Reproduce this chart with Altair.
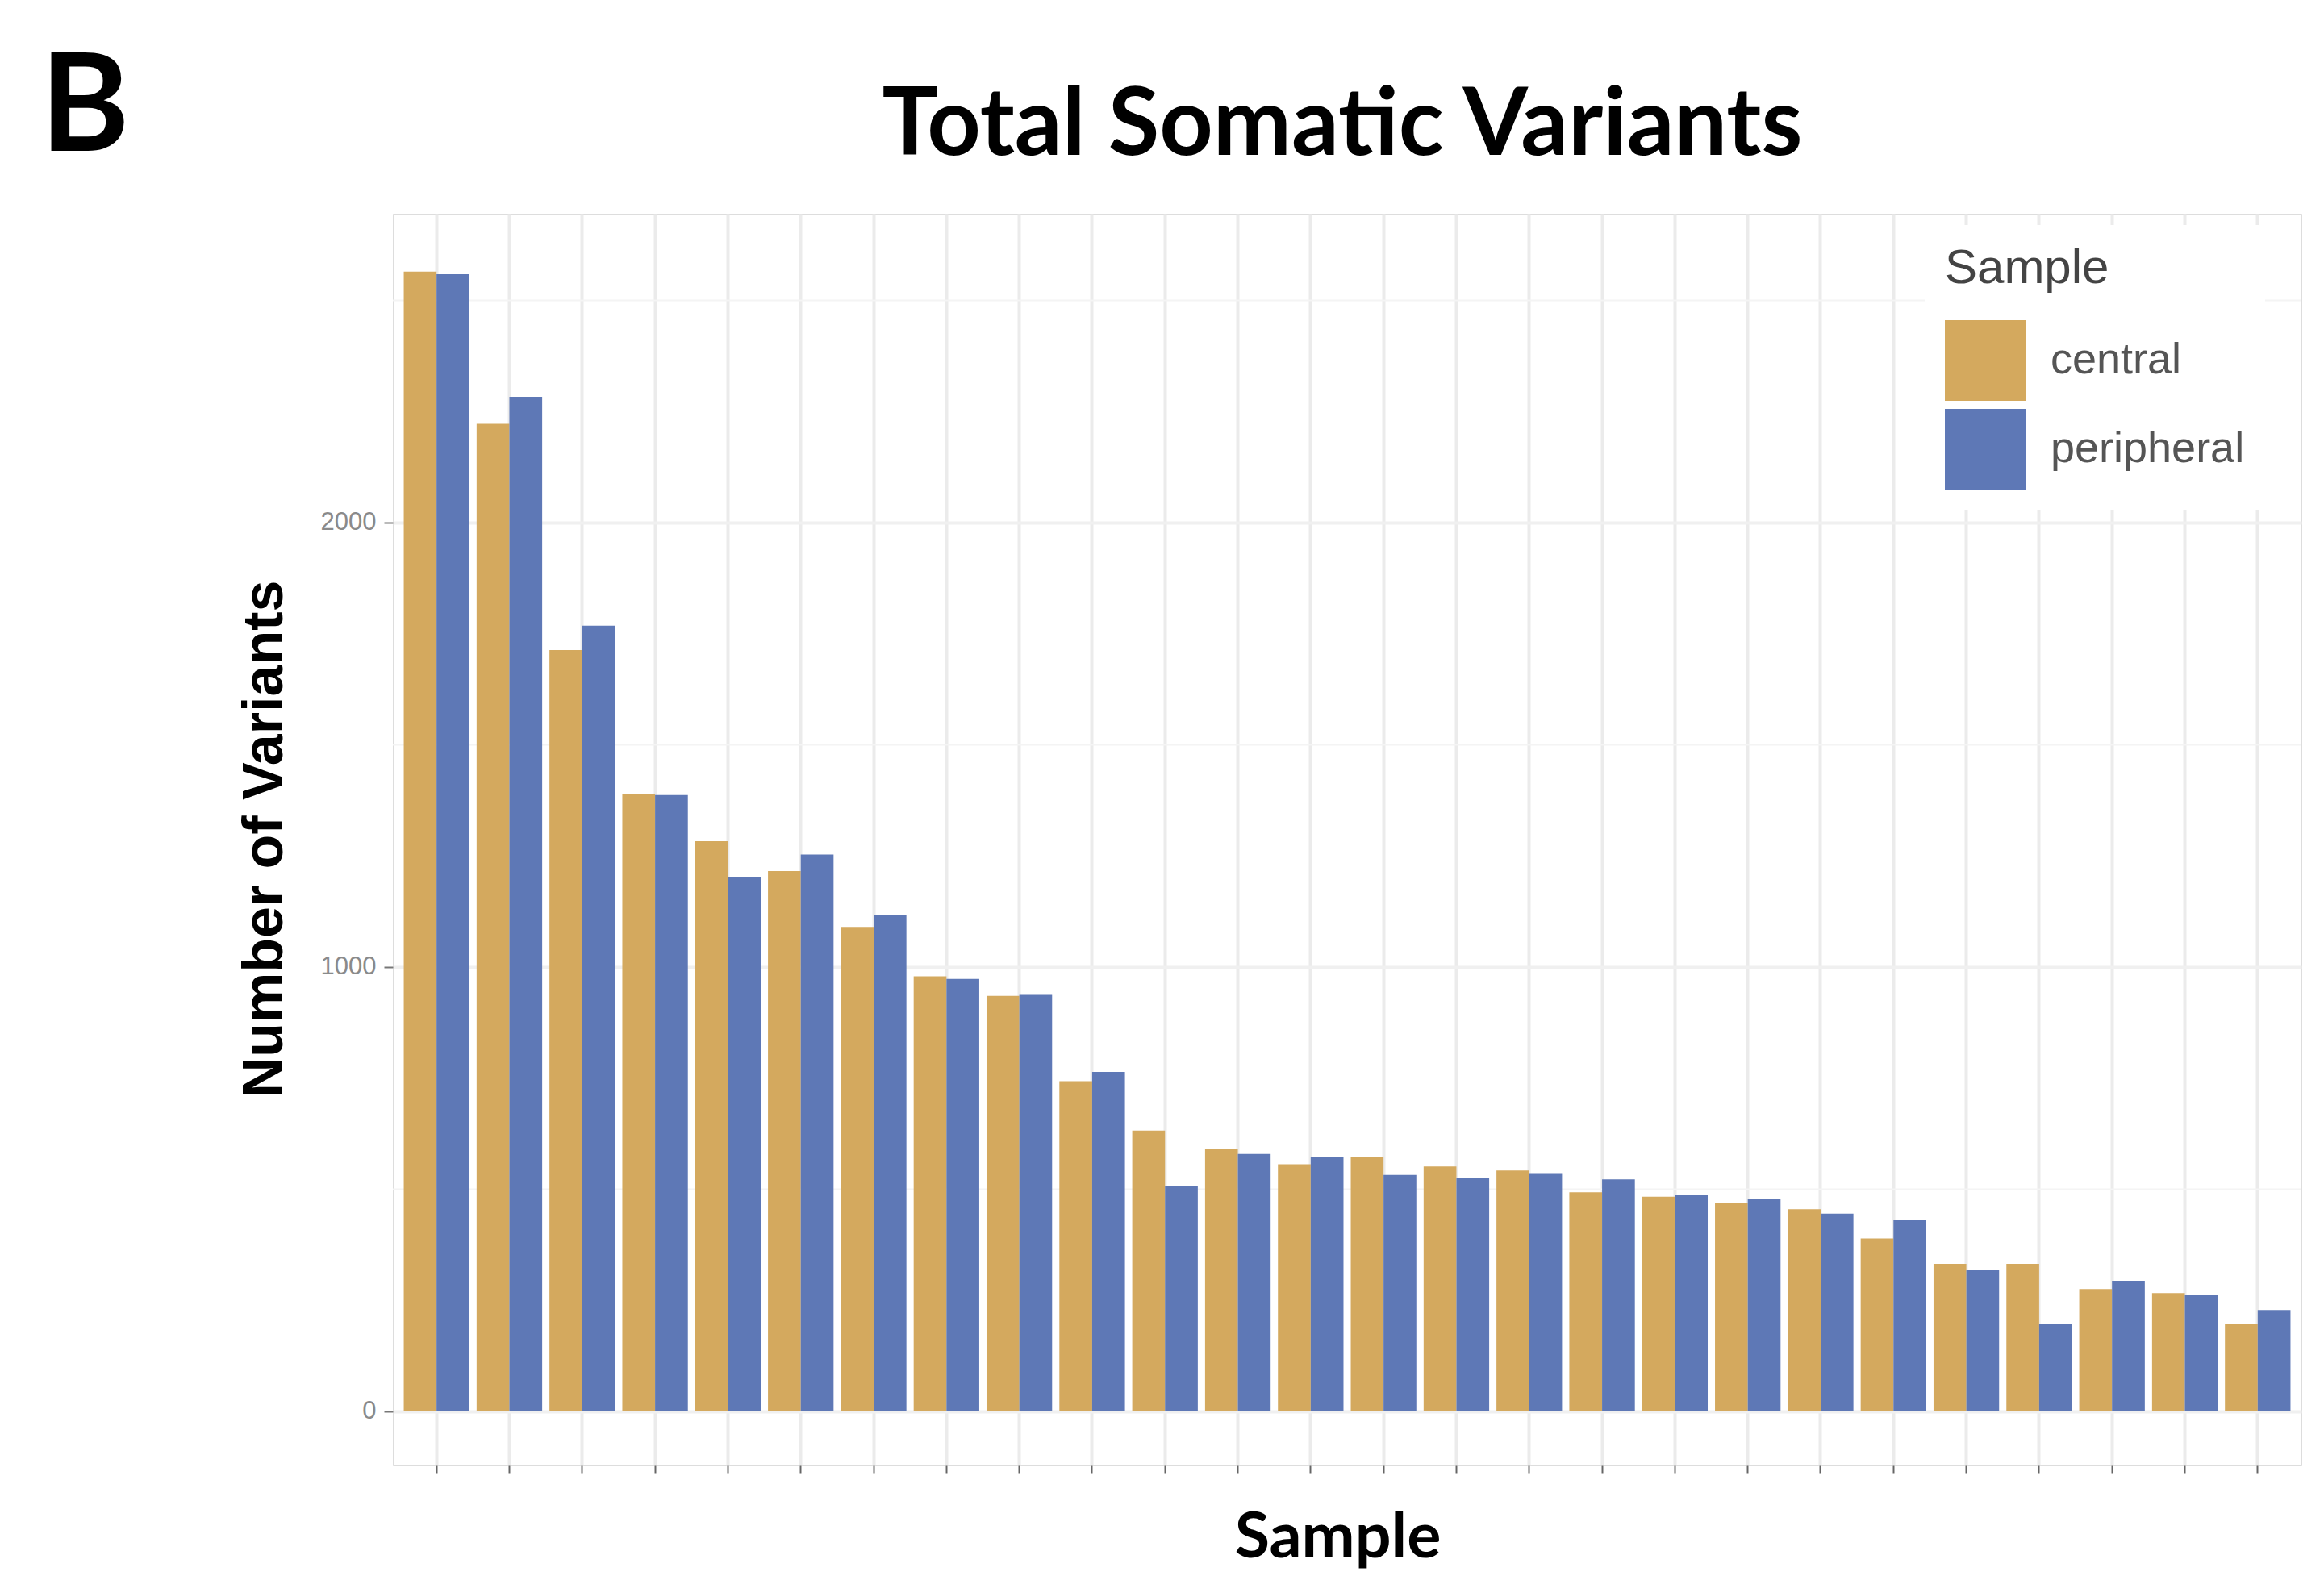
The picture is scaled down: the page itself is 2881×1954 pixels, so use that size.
import altair as alt
import pandas as pd

# ---- data ----
samples = [f"S{i:02d}" for i in range(1, 27)]
central = [2565, 2222, 1713, 1389, 1283, 1216, 1090, 979, 935, 743, 632, 590, 556,
           573, 551, 542, 493, 483, 469, 455, 389, 332, 332, 275, 266, 196]
peripheral = [2559, 2283, 1768, 1387, 1203, 1253, 1116, 973, 937, 764, 508, 579, 572,
              532, 525, 536, 522, 487, 478, 445, 430, 319, 196, 294, 262, 228]
groups = ["central", "peripheral"]
colors = ["#D4A95E", "#5E78B6"]
y_ticks = [0, 1000, 2000]
minor_grid = [500, 1500, 2500]
y_domain = [-120, 2695]
panel_letter = ["B"]
chart_title = ["Total Somatic Variants"]

rows = []
for s, c, p in zip(samples, central, peripheral):
    rows.append({"id": s, "Sample": groups[0], "n": c})
    rows.append({"id": s, "Sample": groups[1], "n": p})
df = pd.DataFrame(rows)

yscale = alt.Scale(domain=y_domain, nice=False, zero=False)
yaxis = alt.Axis(
    values=y_ticks, format="d", title="Number of Variants",
    labelFont="Liberation Sans", labelFontSize=31, labelColor="#8a8a8a",
    labelPadding=10, tickSize=11, tickColor="#777777", tickWidth=2,
    domain=False, grid=True, gridColor="#f0f0f0", gridWidth=4,
    titleFont="Liberation Sans", titleFontSize=70, titleFontWeight="bold",
    titleColor="black", titleX=-138, titleY=775, titleAngle=270,
    titleAlign="center", titleBaseline="alphabetic",
)

minor = alt.Chart(pd.DataFrame({"n": minor_grid})).mark_rule(
    color="#f4f4f4", strokeWidth=2
).encode(y=alt.Y("n:Q", scale=yscale, axis=yaxis))

bars = alt.Chart(df).mark_bar().encode(
    x=alt.X(
        "id:N",
        sort=samples,
        scale=alt.Scale(paddingInner=0.1, paddingOuter=0.15),
        axis=alt.Axis(
            labels=False, title="Sample", ticks=True, tickSize=10,
            tickColor="#666666", tickWidth=2, domain=False,
            grid=True, gridColor="#ebebeb", gridWidth=4,
            titleFont="Lato", titleFontSize=79, titleFontWeight="bold",
            titleColor="black", titleX=1171, titleY=114, titleAlign="center",
            titleBaseline="alphabetic",
        ),
    ),
    xOffset=alt.XOffset("Sample:N", sort=groups,
                        scale=alt.Scale(paddingInner=0, paddingOuter=0)),
    y=alt.Y("n:Q", scale=yscale, stack=None, axis=yaxis),
    y2=alt.datum(0),
    color=alt.Color(
        "Sample:N",
        scale=alt.Scale(domain=groups, range=colors),
        legend=alt.Legend(
            orient="none", legendX=1899, legendY=14, title="Sample",
            titleFont="Liberation Sans", titleFontSize=60, titleFontWeight="normal",
            titleColor="#444444", titleLimit=1000, labelFont="Liberation Sans",
            labelFontSize=54, labelColor="#555555", labelLimit=1000,
            symbolType="square", symbolSize=10000, symbolStrokeWidth=0,
            rowPadding=10, labelOffset=31, titlePadding=33,
            padding=25, fillColor="white",
        ),
    ),
)

letter = alt.Chart(pd.DataFrame({"t": panel_letter})).mark_text(
    font="Lato", fontSize=168, fontWeight="bold", align="left",
    baseline="alphabetic", color="black"
).encode(text="t:N", x=alt.value(-437), y=alt.value(-78))

title = alt.Chart(pd.DataFrame({"t": chart_title})).mark_text(
    font="Lato", fontSize=116, fontWeight="bold", align="center",
    baseline="alphabetic", color="black"
).encode(text="t:N", x=alt.value(1177), y=alt.value(-73))

chart = alt.layer(minor, bars, letter, title).properties(
    width=2366,
    height=1551,
    autosize=alt.AutoSizeParams(type="none"),
    padding={"left": 479, "top": 257, "right": 18, "bottom": 130},
).configure_view(stroke="#c6c6c6", strokeWidth=3).configure(background="white")

chart.save("out.html", embed_options={"renderer": "svg", "actions": False})
